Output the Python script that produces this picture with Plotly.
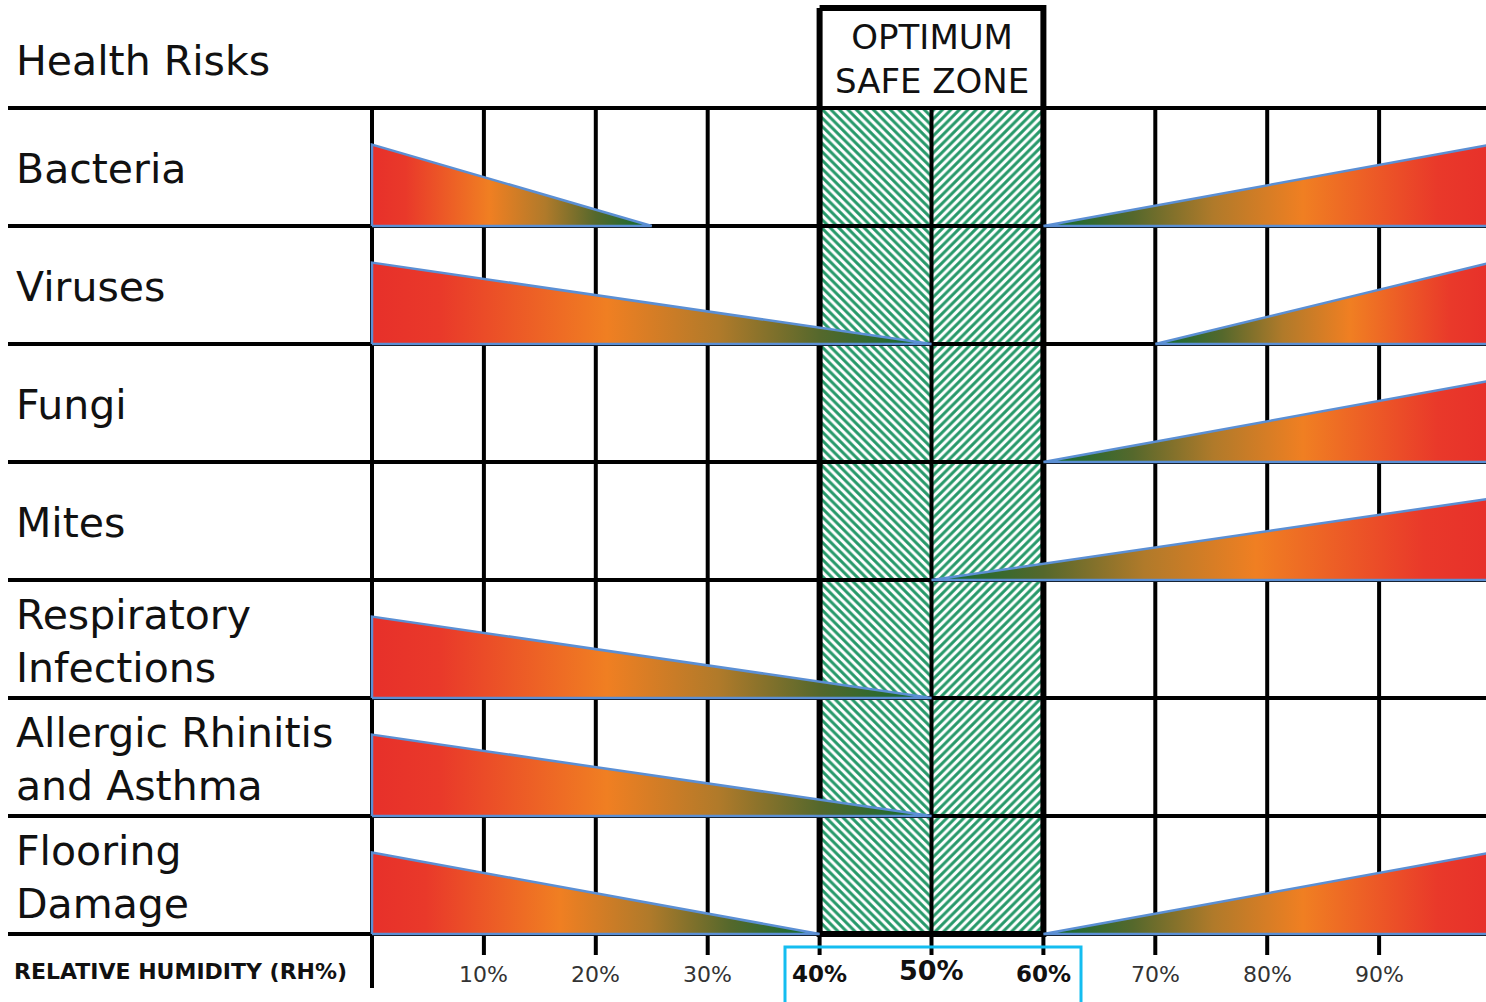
import plotly.graph_objects as go

# ---------------- data ----------------
risks = ["Bacteria", "Viruses", "Fungi", "Mites",
         "Respiratory<br>Infections", "Allergic Rhinitis<br>and Asthma",
         "Flooring<br>Damage"]
# risk present from 0% RH up to this value (None = no low-humidity risk)
low_risk_until = [25, 50, None, None, 50, 50, 40]
# risk present from this value up to 100% RH (None = no high-humidity risk)
high_risk_from = [60, 70, 60, 50, None, None, 60]
rh_ticks = [10, 20, 30, 40, 50, 60, 70, 80, 90]
rh_tick_labels = ["10%", "20%", "30%", "40%", "50%", "60%", "70%", "80%", "90%"]
safe_zone = [40, 50, 60]
header_title = "Health Risks"
zone_title = "OPTIMUM<br>SAFE ZONE"
axis_title = "RELATIVE HUMIDITY (RH%)"

# ---------------- geometry helpers (screen pixels -> data units) ----------------
W, H = 1486, 1002
PX_PER_PCT = 11.19
X0_PX = 372.0
ROW_PX = 118.0
Y0_PX = 108.0


def xpx(p):
    return (p - X0_PX) / PX_PER_PCT


def ypx(p):
    return (p - Y0_PX) / ROW_PX


n_rows = len(risks)
TRI_H = 0.69
x_left = xpx(8)
x_right = 100

RED = "#e7302a"
colorscale_low = [[0, RED], [0.12, "#e9392a"], [0.42, "#f07f22"],
                  [0.62, "#b07a2a"], [0.8, "#55682c"], [1, "#0b6b33"]]
colorscale_high = [[1 - s, c] for s, c in reversed(colorscale_low)]

fig = go.Figure()

# hatched safe zone
for (a, b), shape in zip([(safe_zone[0], safe_zone[1]), (safe_zone[1], safe_zone[2])], ["\\", "/"]):
    fig.add_trace(go.Scatter(
        x=[a, b, b, a, a], y=[0, 0, n_rows, n_rows, 0],
        mode="none", fill="toself", fillcolor="white",
        fillpattern=dict(shape=shape, fgcolor="#27996a", bgcolor="white",
                         size=6, solidity=0.5, fillmode="replace"),
        hoverinfo="skip", showlegend=False))

# grid lines
gx, gy = [], []
for t in rh_ticks:
    gx += [t, t, None]
    gy += [0, n_rows, None]
gx += [0, 0, None]
gy += [0, ypx(988), None]
for r in range(n_rows + 1):
    gx += [x_left, x_right, None]
    gy += [r, r, None]
for t in rh_ticks:
    gx += [t, t, None]
    gy += [n_rows, ypx(955), None]
fig.add_trace(go.Scatter(x=gx, y=gy, mode="lines",
                         line=dict(color="black", width=4),
                         hoverinfo="skip", showlegend=False))

# safe zone box
top = ypx(8)
fig.add_trace(go.Scatter(
    x=[safe_zone[0], safe_zone[2], safe_zone[2], safe_zone[0], safe_zone[0]],
    y=[top, top, n_rows, n_rows, top], mode="lines",
    line=dict(color="black", width=6), hoverinfo="skip", showlegend=False))

# risk triangles
for i, (lo, hi) in enumerate(zip(low_risk_until, high_risk_from)):
    base = i + 1
    if lo is not None:
        fig.add_trace(go.Scatter(
            x=[0, lo, 0, 0], y=[base, base, base - TRI_H, base],
            mode="lines", fill="toself", line=dict(color="#5b8fd4", width=2.5),
            fillgradient=dict(type="horizontal", colorscale=colorscale_low),
            hoverinfo="skip", showlegend=False))
    if hi is not None:
        fig.add_trace(go.Scatter(
            x=[hi, 100, 100, hi], y=[base, base, base - TRI_H, base],
            mode="lines", fill="toself", line=dict(color="#5b8fd4", width=2.5),
            fillgradient=dict(type="horizontal", colorscale=colorscale_high),
            hoverinfo="skip", showlegend=False))

FONT = "DejaVu Sans"
ann = []
ann.append(dict(x=xpx(14), y=ypx(61), text=header_title, xanchor="left", yanchor="middle",
                showarrow=False, align="left", font=dict(family=FONT, size=41, color="#111")))
for i, name in enumerate(risks):
    ann.append(dict(x=xpx(14), y=i + 0.52, text=name, xanchor="left", yanchor="middle",
                    showarrow=False, align="left",
                    font=dict(family=FONT, size=41, color="#111")))
ann.append(dict(x=safe_zone[1], y=ypx(59), text=zone_title, xanchor="center", yanchor="middle",
                showarrow=False, font=dict(family=FONT, size=34, color="#111")))
ann.append(dict(x=xpx(12), y=ypx(971), text="<b>" + axis_title + "</b>", xanchor="left",
                yanchor="middle", showarrow=False,
                font=dict(family=FONT, size=22, color="#111")))
for t, lab in zip(rh_ticks, rh_tick_labels):
    if t == safe_zone[1]:
        ann.append(dict(x=t, y=ypx(970), text="<b>" + lab + "</b>", showarrow=False,
                        xanchor="center", yanchor="middle",
                        font=dict(family=FONT, size=27, color="#111")))
    elif t in safe_zone:
        ann.append(dict(x=t, y=ypx(974), text="<b>" + lab + "</b>", showarrow=False,
                        xanchor="center", yanchor="middle",
                        font=dict(family=FONT, size=23, color="#111")))
    else:
        ann.append(dict(x=t, y=ypx(974), text=lab, showarrow=False,
                        xanchor="center", yanchor="middle",
                        font=dict(family=FONT, size=22, color="#333")))

fig.update_layout(
    width=W, height=H, margin=dict(l=0, r=0, t=0, b=0),
    paper_bgcolor="white", plot_bgcolor="white",
    xaxis=dict(range=[xpx(0), xpx(W)], visible=False, fixedrange=True),
    yaxis=dict(range=[ypx(H), ypx(0)], visible=False, fixedrange=True),
    annotations=ann,
    shapes=[dict(type="rect", xref="x", yref="y",
                 x0=xpx(785), x1=xpx(1081), y0=ypx(947), y1=ypx(1010),
                 line=dict(color="#14bdf0", width=3), layer="above")],
    showlegend=False,
)

# remove the default page margin so the figure sits at the window's origin
fig.write_html("out.html",
               config={"displayModeBar": False},
               post_script="document.body.style.margin='0px';document.body.style.overflow='hidden';")
